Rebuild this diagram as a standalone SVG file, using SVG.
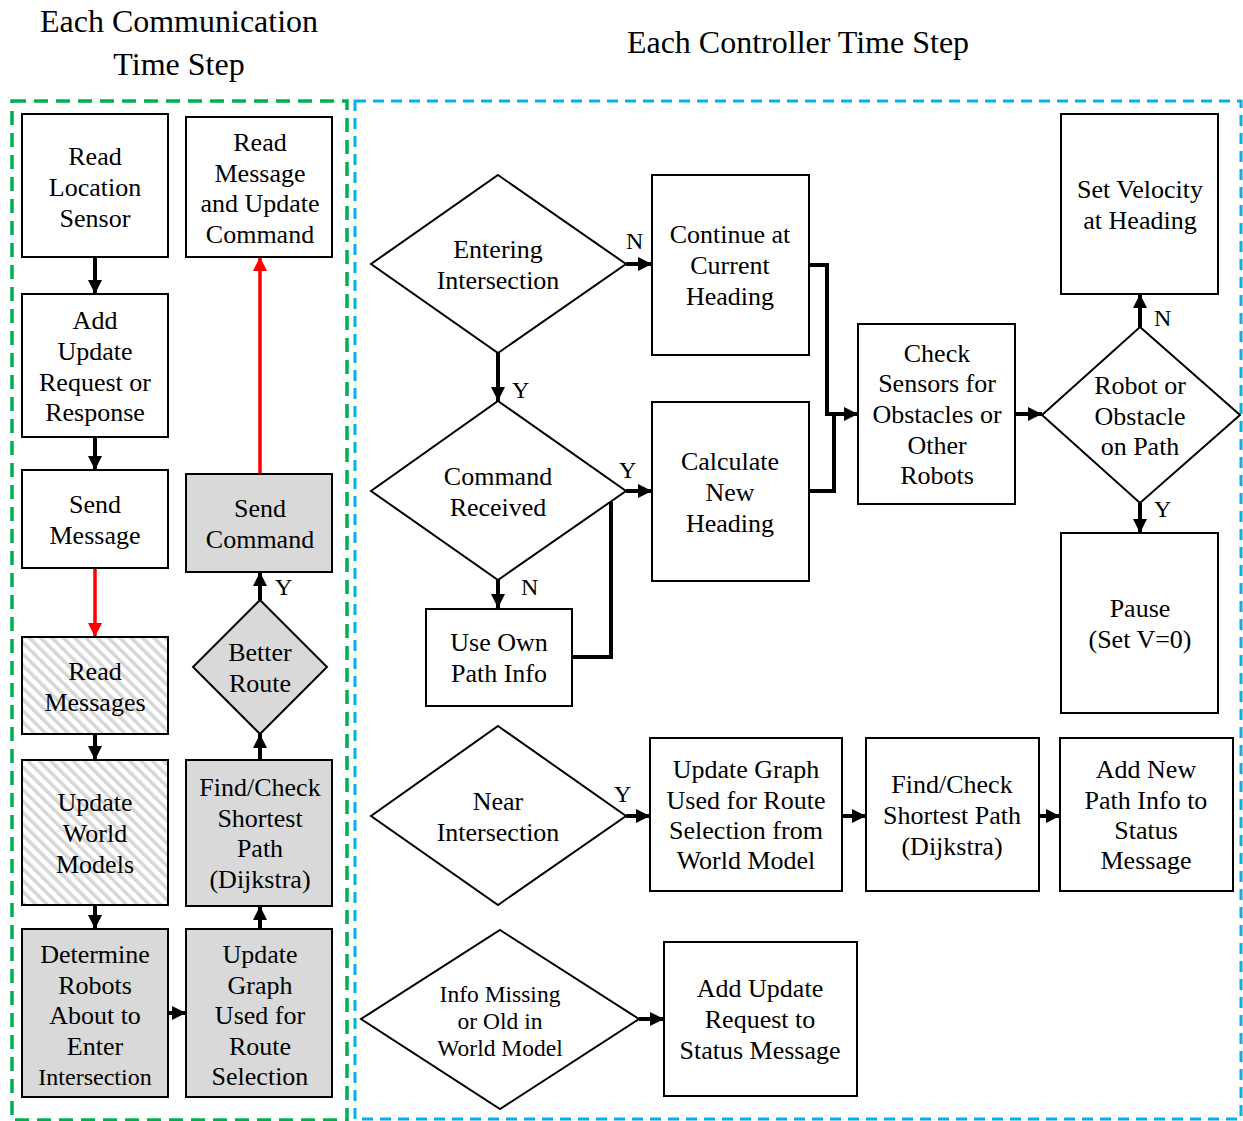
<svg xmlns="http://www.w3.org/2000/svg" width="1243" height="1121" viewBox="0 0 1243 1121">
  <style>
    text { font-family: "Liberation Serif", "Times New Roman", serif; font-size: 26px; fill: #000; text-anchor: middle; }
    .title { font-size: 32px; }
    .lbl { font-size: 24px; text-anchor: start; }
    .sm { font-size: 23.5px; }
    .box { fill: #fff; stroke: #000; stroke-width: 2; }
    .gray { fill: #d9d9d9; stroke: #000; stroke-width: 2; }
    .hatch { fill: url(#hatch); stroke: #000; stroke-width: 2; }
    .conn { fill: none; stroke: #000; stroke-width: 4; }
    .arrow { marker-end: url(#ah); }
    .red { fill: none; stroke: #ff0000; stroke-width: 3.5; marker-end: url(#ahr); }
    .frame-g { fill: none; stroke: #00b050; stroke-width: 3.5; stroke-dasharray: 14 8; }
    .frame-b { fill: none; stroke: #00b0f0; stroke-width: 3; stroke-dasharray: 11 7; }
  </style>
  <defs>
    <marker id="ah" markerUnits="userSpaceOnUse" markerWidth="14" markerHeight="14" refX="14" refY="7" orient="auto">
      <path d="M0,0 L14,7 L0,14 z" fill="#000"/>
    </marker>
    <marker id="ahr" markerUnits="userSpaceOnUse" markerWidth="14" markerHeight="14" refX="14" refY="7" orient="auto">
      <path d="M0,0 L14,7 L0,14 z" fill="#ff0000"/>
    </marker>
    <pattern id="hatch" patternUnits="userSpaceOnUse" width="8" height="8" patternTransform="rotate(-45)">
      <rect width="8" height="8" fill="#fff"/>
      <rect width="3.5" height="8" fill="#d6d6d6"/>
    </pattern>
  </defs>

  <!-- headings -->
  <text class="title" x="179" y="32">Each Communication</text>
  <text class="title" x="179" y="75">Time Step</text>
  <text class="title" x="798" y="53">Each Controller Time Step</text>

  <!-- phase frames -->
  <rect class="frame-g" x="12" y="101" width="335" height="1019"/>
  <rect class="frame-b" x="355" y="101" width="886" height="1018"/>

  <!-- connectors -->
  <g id="connectors">
    <path class="conn arrow" d="M95,257 V294"/>
    <path class="conn arrow" d="M95,437 V470"/>
    <path class="red" d="M95,568 V637"/>
    <path class="conn arrow" d="M95,734 V760"/>
    <path class="conn arrow" d="M95,905 V929"/>
    <path class="conn arrow" d="M168,1013 H186"/>
    <path class="conn arrow" d="M260,929 V906"/>
    <path class="conn arrow" d="M260,760 V734"/>
    <path class="conn arrow" d="M260,600 V572"/>
    <path class="red" d="M260,474 V257"/>

    <path class="conn arrow" d="M626,264 H652"/>
    <path class="conn arrow" d="M498,353 V401"/>
    <path class="conn arrow" d="M626,491 H652"/>
    <path class="conn arrow" d="M498,580 V608"/>
    <path class="conn" d="M572,657 H611 V502"/>
    <path class="conn arrow" d="M809,265 H827 V414 H858"/>
    <path class="conn" d="M809,491 H834 V414"/>
    <path class="conn arrow" d="M1015,414 H1042"/>
    <path class="conn arrow" d="M1140,327 V294"/>
    <path class="conn arrow" d="M1140,503 V533"/>
    <path class="conn arrow" d="M626,816 H650"/>
    <path class="conn arrow" d="M842,816 H866"/>
    <path class="conn arrow" d="M1039,816 H1060"/>
    <path class="conn arrow" d="M639,1019 H664"/>

    <text class="lbl" x="626" y="249">N</text>
    <text class="lbl" x="512" y="398">Y</text>
    <text class="lbl" x="619" y="478">Y</text>
    <text class="lbl" x="521" y="595">N</text>
    <text class="lbl" x="1154" y="326">N</text>
    <text class="lbl" x="1154" y="517">Y</text>
    <text class="lbl" x="275" y="595">Y</text>
    <text class="lbl" x="614" y="802">Y</text>
  </g>

  <!-- communication time step -->
  <g id="read-location">
    <rect class="box" x="22" y="114" width="146" height="143"/>
    <text x="95" y="165">Read</text>
    <text x="95" y="196">Location</text>
    <text x="95" y="227">Sensor</text>
  </g>
  <g id="add-update-request">
    <rect class="box" x="22" y="294" width="146" height="143"/>
    <text x="95" y="329">Add</text>
    <text x="95" y="360">Update</text>
    <text x="95" y="391">Request or</text>
    <text x="95" y="421">Response</text>
  </g>
  <g id="send-message">
    <rect class="box" x="22" y="470" width="146" height="98"/>
    <text x="95" y="513">Send</text>
    <text x="95" y="544">Message</text>
  </g>
  <g id="read-messages">
    <rect class="hatch" x="22" y="637" width="146" height="97"/>
    <text x="95" y="680">Read</text>
    <text x="95" y="711">Messages</text>
  </g>
  <g id="update-world-models">
    <rect class="hatch" x="22" y="760" width="146" height="145"/>
    <text x="95" y="811">Update</text>
    <text x="95" y="842">World</text>
    <text x="95" y="873">Models</text>
  </g>
  <g id="determine-robots">
    <rect class="gray" x="22" y="929" width="146" height="168"/>
    <text x="95" y="963">Determine</text>
    <text x="95" y="994">Robots</text>
    <text x="95" y="1024">About to</text>
    <text x="95" y="1055">Enter</text>
    <text x="95" y="1085" style="font-size:24px">Intersection</text>
  </g>
  <g id="update-graph-left">
    <rect class="gray" x="186" y="929" width="146" height="168"/>
    <text x="260" y="963">Update</text>
    <text x="260" y="994">Graph</text>
    <text x="260" y="1024">Used for</text>
    <text x="260" y="1055">Route</text>
    <text x="260" y="1085">Selection</text>
  </g>
  <g id="find-check-left">
    <rect class="gray" x="186" y="760" width="146" height="146"/>
    <text x="260" y="796">Find/Check</text>
    <text x="260" y="827">Shortest</text>
    <text x="260" y="857">Path</text>
    <text x="260" y="888">(Dijkstra)</text>
  </g>
  <g id="better-route">
    <polygon class="gray" points="260,600 327,667 260,734 193,667"/>
    <text x="260" y="661">Better</text>
    <text x="260" y="692">Route</text>
  </g>
  <g id="send-command">
    <rect class="gray" x="186" y="474" width="146" height="98"/>
    <text x="260" y="517">Send</text>
    <text x="260" y="548">Command</text>
  </g>
  <g id="read-message-update">
    <rect class="box" x="186" y="117" width="146" height="140"/>
    <text x="260" y="151">Read</text>
    <text x="260" y="182">Message</text>
    <text x="260" y="212">and Update</text>
    <text x="260" y="243">Command</text>
  </g>

  <!-- controller time step -->
  <g id="entering-intersection">
    <polygon class="box" points="498,175 626,264 498,353 371,264"/>
    <text x="498" y="258">Entering</text>
    <text x="498" y="289">Intersection</text>
  </g>
  <g id="continue-heading">
    <rect class="box" x="652" y="175" width="157" height="180"/>
    <text x="730" y="243">Continue at</text>
    <text x="730" y="274">Current</text>
    <text x="730" y="305">Heading</text>
  </g>
  <g id="command-received">
    <polygon class="box" points="498,401 626,491 498,580 371,491"/>
    <text x="498" y="485">Command</text>
    <text x="498" y="516">Received</text>
  </g>
  <g id="calculate-heading">
    <rect class="box" x="652" y="402" width="157" height="179"/>
    <text x="730" y="470">Calculate</text>
    <text x="730" y="501">New</text>
    <text x="730" y="532">Heading</text>
  </g>
  <g id="use-own-path">
    <rect class="box" x="426" y="609" width="146" height="97"/>
    <text x="499" y="651">Use Own</text>
    <text x="499" y="682">Path Info</text>
  </g>
  <g id="check-sensors">
    <rect class="box" x="858" y="324" width="157" height="180"/>
    <text x="937" y="362">Check</text>
    <text x="937" y="392">Sensors for</text>
    <text x="937" y="423">Obstacles or</text>
    <text x="937" y="454">Other</text>
    <text x="937" y="484">Robots</text>
  </g>
  <g id="obstacle-on-path">
    <polygon class="box" points="1140,327 1240,415 1140,503 1042,415"/>
    <text x="1140" y="394">Robot or</text>
    <text x="1140" y="425">Obstacle</text>
    <text x="1140" y="455">on Path</text>
  </g>
  <g id="set-velocity">
    <rect class="box" x="1061" y="114" width="157" height="180"/>
    <text x="1140" y="198">Set Velocity</text>
    <text x="1140" y="229">at Heading</text>
  </g>
  <g id="pause">
    <rect class="box" x="1061" y="533" width="157" height="180"/>
    <text x="1140" y="617">Pause</text>
    <text x="1140" y="648">(Set V=0)</text>
  </g>
  <g id="near-intersection">
    <polygon class="box" points="498,726 626,816 498,905 371,816"/>
    <text x="498" y="810">Near</text>
    <text x="498" y="841">Intersection</text>
  </g>
  <g id="update-graph-right">
    <rect class="box" x="650" y="738" width="192" height="153"/>
    <text x="746" y="778">Update Graph</text>
    <text x="746" y="809">Used for Route</text>
    <text x="746" y="839">Selection from</text>
    <text x="746" y="869">World Model</text>
  </g>
  <g id="find-check-right">
    <rect class="box" x="866" y="738" width="173" height="153"/>
    <text x="952" y="793">Find/Check</text>
    <text x="952" y="824">Shortest Path</text>
    <text x="952" y="855">(Dijkstra)</text>
  </g>
  <g id="add-path-info">
    <rect class="box" x="1060" y="738" width="173" height="153"/>
    <text x="1146" y="778">Add New</text>
    <text x="1146" y="809">Path Info to</text>
    <text x="1146" y="839">Status</text>
    <text x="1146" y="869">Message</text>
  </g>
  <g id="info-missing">
    <polygon class="box" points="500,930 639,1019 500,1109 361,1019"/>
    <text class="sm" x="500" y="1002">Info Missing</text>
    <text class="sm" x="500" y="1029">or Old in</text>
    <text class="sm" x="500" y="1056">World Model</text>
  </g>
  <g id="add-update-status">
    <rect class="box" x="664" y="942" width="193" height="154"/>
    <text x="760" y="997">Add Update</text>
    <text x="760" y="1028">Request to</text>
    <text x="760" y="1059">Status Message</text>
  </g>
</svg>
